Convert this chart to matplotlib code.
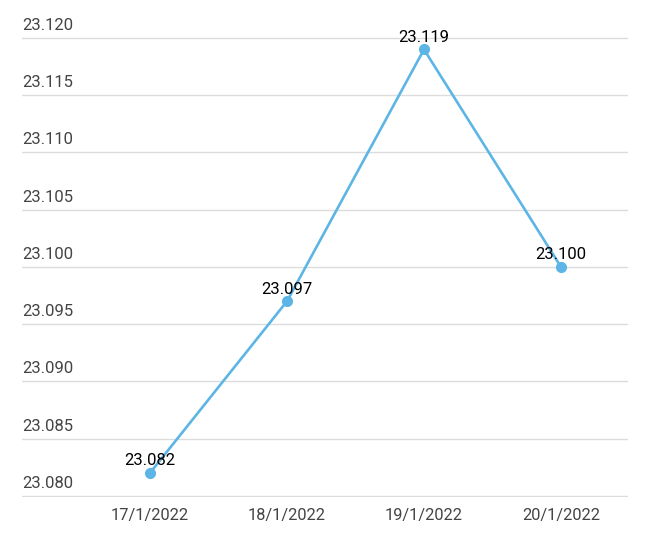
import matplotlib.pyplot as plt
import numpy as np

dates = ["17/1/2022", "18/1/2022", "19/1/2022", "20/1/2022"]
rates = [23.082, 23.097, 23.119, 23.100]
yticks = [23.080, 23.085, 23.090, 23.095, 23.100, 23.105, 23.110, 23.115, 23.120]

plt.rcParams['font.family'] = ['Roboto', 'DejaVu Sans']

fig = plt.figure(figsize=(6.6, 5.42), dpi=100)
ax = fig.add_axes([0.0333, 0.0830, 0.9182, 0.8490])

x = np.arange(len(dates))
ax.plot(x, rates, color='#5db5e6', lw=1.9, marker='o', ms=7, clip_on=False, zorder=3)

for xi, v in zip(x, rates):
    ax.annotate(f"{v:.3f}", (xi, v), xytext=(0, 12), textcoords='offset pixels',
                ha='center', va='center', fontsize=12, color='black', zorder=4)

ax.set_xlim(-0.934, 3.489)
ax.set_ylim(23.0799, 23.1201)
ax.set_yticks(yticks)
ax.set_yticklabels([])
ax.grid(axis='y', color='#dcdcdc', lw=1)
ax.set_axisbelow(True)

for t in yticks:
    ax.annotate(f"{t:.3f}", (0, t), xycoords=('axes fraction', 'data'),
                xytext=(0, 5), textcoords='offset pixels',
                ha='left', va='bottom', fontsize=12, color='#444444')

ax.set_xticks(x)
ax.set_xticklabels(dates, fontsize=11.8, color='#444444')
ax.tick_params(axis='both', length=0)
ax.tick_params(axis='x', pad=8)
for s in ax.spines.values():
    s.set_visible(False)

fig.savefig("out.png", dpi=100)
